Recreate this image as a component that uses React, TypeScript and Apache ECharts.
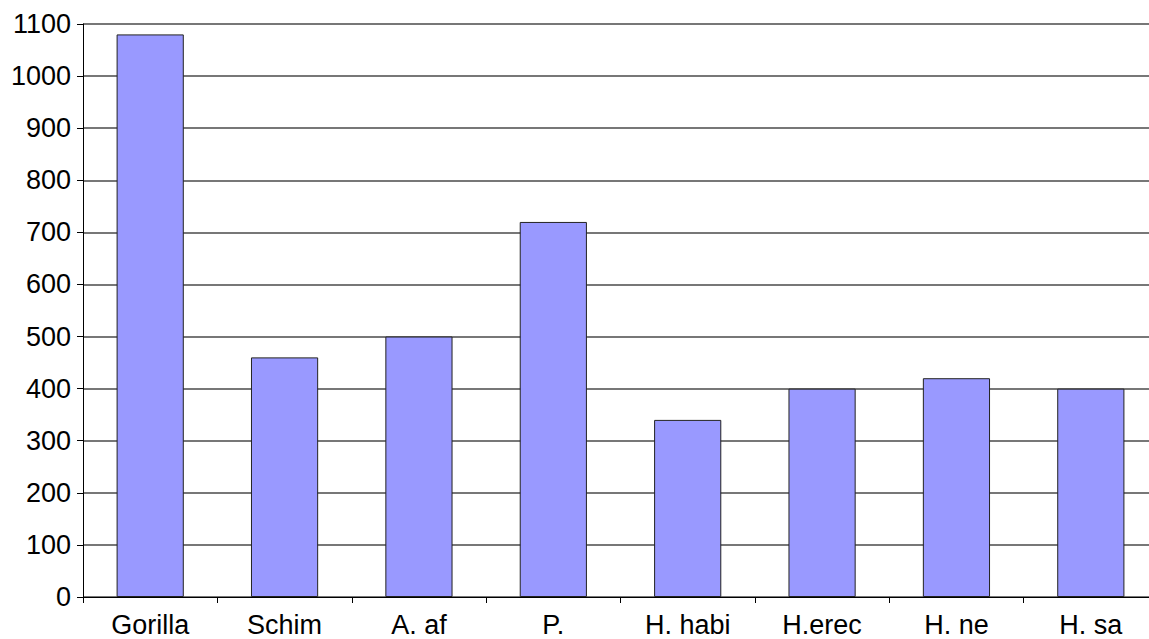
import React, { useEffect, useRef } from "react";
import * as echarts from "echarts";

const categories = ["Gorilla", "Schim", "A. af", "P.", "H. habi", "H.erec", "H. ne", "H. sa"];
const values = [1080, 460, 500, 720, 340, 400, 420, 400];
const yMin = 0;
const yMax = 1100;
const yInterval = 100;

export default function App() {
  const ref = useRef<HTMLDivElement>(null);
  useEffect(() => {
    if (!ref.current) return;
    const chart = echarts.init(ref.current, undefined, { renderer: "svg" });
    const font = "'Liberation Sans', Arial, sans-serif";
    chart.setOption({
      animation: false,
      backgroundColor: "#ffffff",
      grid: { left: 83, top: 24, bottom: 42, right: 2, containLabel: false },
      xAxis: {
        type: "category",
        data: categories,
        axisLine: { show: true, lineStyle: { color: "#000", width: 1 } },
        axisTick: { show: true, length: 6, alignWithLabel: false, lineStyle: { color: "#000" } },
        axisLabel: { color: "#000", fontSize: 27, fontFamily: font, margin: 14, interval: 0 },
        splitLine: { show: false },
      },
      yAxis: {
        type: "value",
        min: yMin,
        max: yMax,
        interval: yInterval,
        axisLine: { show: true, lineStyle: { color: "#000", width: 1 } },
        axisTick: { show: true, length: 6, lineStyle: { color: "#000" } },
        axisLabel: {
          color: "#000",
          fontSize: 27,
          fontFamily: font,
          margin: 12,
          formatter: (v: number) => String(v),
        },
        splitLine: { show: true, lineStyle: { color: "#4a4a4a", width: 1.5 } },
      },
      series: [
        {
          type: "bar",
          data: values,
          barWidth: "50%",
          itemStyle: { color: "#9999ff", borderColor: "#222", borderWidth: 1 },
        },
      ],
    });
    return () => chart.dispose();
  }, []);
  return (
    <div
      ref={ref}
      style={{ position: "fixed", left: 0, top: 0, width: 1160, height: 639, background: "#fff" }}
    />
  );
}
